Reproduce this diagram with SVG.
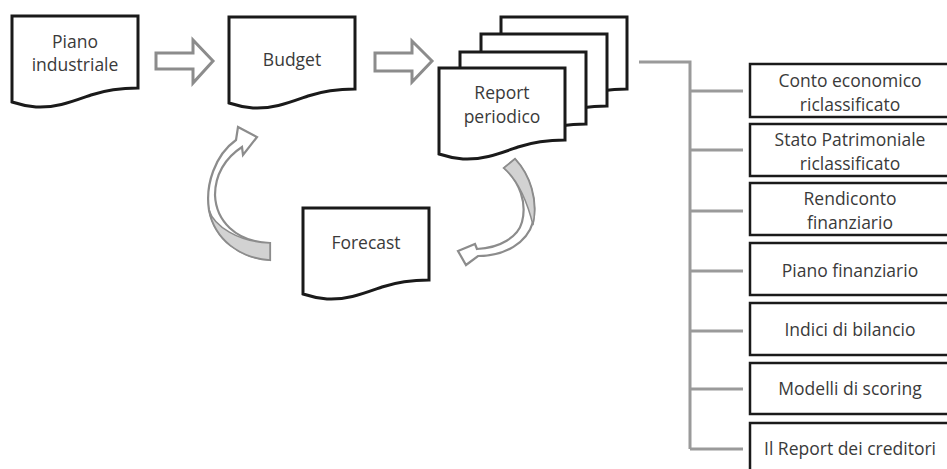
<svg xmlns="http://www.w3.org/2000/svg" xmlns:xlink="http://www.w3.org/1999/xlink" width="947" height="469" viewBox="0 0 947 469">
<style>
.doc{fill:#fff;stroke:#1a1a1a;stroke-width:3;stroke-linejoin:miter}
.box{fill:#fff;stroke:#1a1a1a;stroke-width:2.5}
.t{font-family:"Open Sans","Noto Sans",sans-serif;font-size:17.5px;fill:#3a3a3a;text-anchor:middle}
.blk{fill:#fff;stroke:#8c8c8c;stroke-width:3;stroke-linejoin:miter}
.cur{fill:#fff;stroke:#8c8c8c;stroke-width:2.2;stroke-linejoin:miter}
.cres{fill:#d2d2d2;stroke:#8c8c8c;stroke-width:1.5}
.ln{fill:none;stroke:#9a9a9a;stroke-width:3}
</style>
<defs>
<path id="docshape" d="M 0 86 V 0 H 126 V 72 C 109 72, 94 74, 79 79 C 59 86, 44 92, 24 91 C 14 90, 6 88, 0 86 Z"/>
</defs>
<rect width="947" height="469" fill="#fff"/>

<g id="connectors">
<path class="blk" d="M 156 53 H 193 V 40 L 213 61 L 193 83 V 69 H 156 Z"/>
<path class="blk" d="M 375 53 H 412 V 41 L 432 61 L 412 82 V 71 H 375 Z"/>
<path class="cur" d="M 270 260 C 240 258, 215 240, 209 210 C 205 185, 215 155, 236 140 L 238 127 L 257 137 L 243 155 L 242 147 C 225 158, 215 175, 215 195 C 216 220, 235 242, 270 243 Z"/>
<path class="cres" d="M 270 260 C 240 258, 215 240, 209 210 C 214 226, 238 242, 270 243 Z"/>
<path class="cur" d="M 515 159 C 530 175, 538 200, 533 222 C 527 243, 505 256, 478 256 L 466 265 L 458 251 L 475 244 L 477 249 C 500 248, 518 237, 522 222 C 527 203, 520 182, 504 168 Z"/>
<path class="cres" d="M 504 168 L 515 159 C 530 175, 538 200, 533 225 C 528 205, 520 182, 504 168 Z"/>
<path class="ln" d="M 639 62 H 690 V 449"/>
<path class="ln" d="M 690 91 H 743 M 690 150 H 743 M 690 211 H 743 M 690 271 H 743 M 690 331 H 743 M 690 389 H 743 M 690 449 H 743"/>
</g>

<g id="piano-industriale">
<use xlink:href="#docshape" href="#docshape" class="doc" x="12" y="16"/>
<text class="t" x="75" y="48">Piano</text>
<text class="t" x="75" y="71">industriale</text>
</g>

<g id="budget">
<use xlink:href="#docshape" href="#docshape" class="doc" x="229" y="17"/>
<text class="t" x="292" y="66">Budget</text>
</g>

<g id="report-periodico">
<use xlink:href="#docshape" href="#docshape" class="doc" x="501" y="17"/>
<use xlink:href="#docshape" href="#docshape" class="doc" x="481" y="34"/>
<use xlink:href="#docshape" href="#docshape" class="doc" x="460" y="52"/>
<use xlink:href="#docshape" href="#docshape" class="doc" x="439" y="68"/>
<text class="t" x="502" y="99">Report</text>
<text class="t" x="502" y="123">periodico</text>
</g>

<g id="forecast">
<use xlink:href="#docshape" href="#docshape" class="doc" x="303" y="208"/>
<text class="t" x="366" y="249">Forecast</text>
</g>

<g id="conto-economico">
<rect class="box" x="750" y="64" width="210" height="53"/>
<text class="t" x="850" y="87">Conto economico</text>
<text class="t" x="850" y="111">riclassificato</text>
</g>
<g id="stato-patrimoniale">
<rect class="box" x="750" y="124" width="210" height="52"/>
<text class="t" x="850" y="146">Stato Patrimoniale</text>
<text class="t" x="850" y="170">riclassificato</text>
</g>
<g id="rendiconto">
<rect class="box" x="750" y="183" width="210" height="52"/>
<text class="t" x="850" y="205">Rendiconto</text>
<text class="t" x="850" y="229">finanziario</text>
</g>
<g id="piano-finanziario">
<rect class="box" x="750" y="243" width="210" height="52"/>
<text class="t" x="850" y="277">Piano finanziario</text>
</g>
<g id="indici">
<rect class="box" x="750" y="303" width="210" height="52"/>
<text class="t" x="850" y="336">Indici di bilancio</text>
</g>
<g id="modelli">
<rect class="box" x="750" y="363" width="210" height="51"/>
<text class="t" x="850" y="395">Modelli di scoring</text>
</g>
<g id="report-creditori">
<rect class="box" x="750" y="423" width="210" height="60"/>
<text class="t" x="850" y="455">Il Report dei creditori</text>
</g>
</svg>
